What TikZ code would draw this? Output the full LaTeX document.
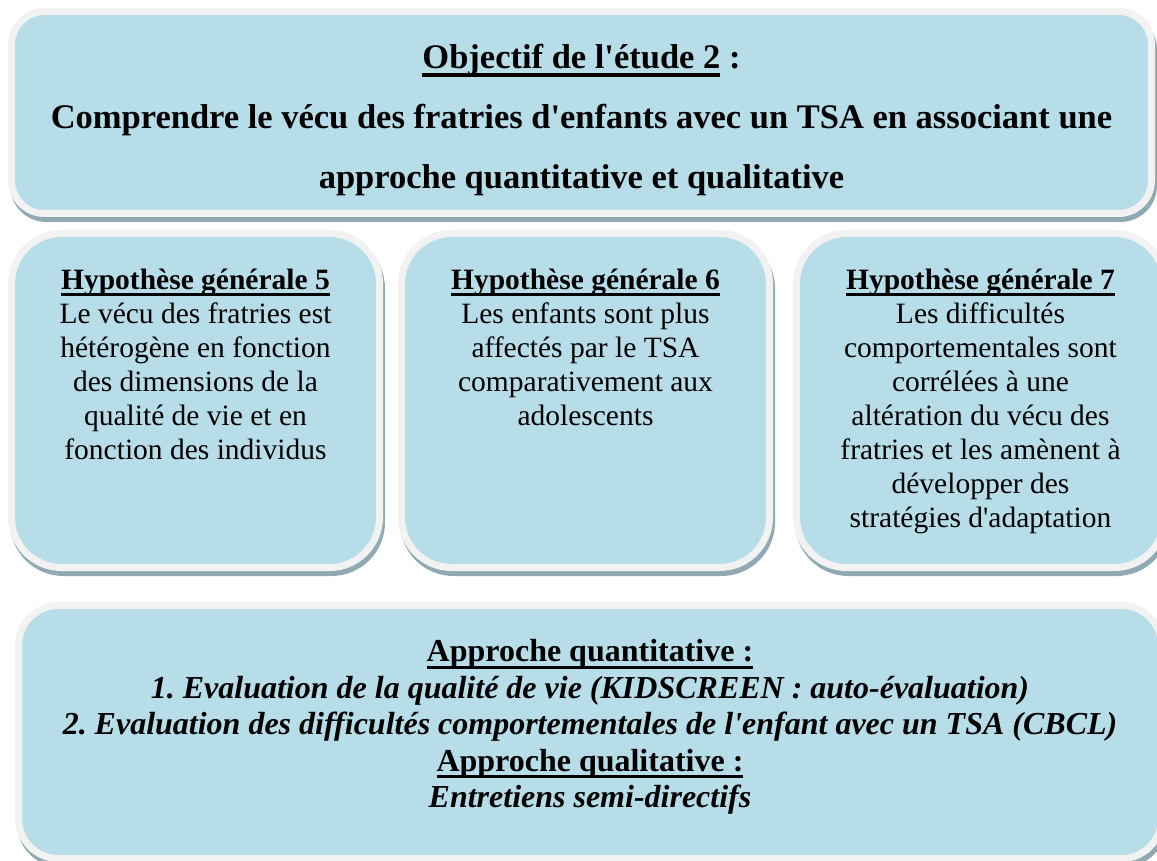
\documentclass[tikz,border=0pt]{standalone}
\usepackage{fontspec}
\setmainfont{Liberation Serif}
\usetikzlibrary{shadows}
\definecolor{fondbleu}{HTML}{B7DDE8}
\definecolor{bordgris}{HTML}{F2F2F2}
\definecolor{ombre}{HTML}{8FAAB3}
\frenchspacing
% underline placed like a word processor does (through the descenders)
\newcommand\souligne[1]{\sbox0{#1}\rlap{\rule[-0.22em]{\wd0}{0.09em}}\usebox0}
\newcommand\apos{\textquotesingle}

\begin{document}
\begin{tikzpicture}[x=1pt,y=-1pt,
  boite/.style={draw=bordgris,line width=7pt,fill=fondbleu,inner sep=0pt,
    drop shadow={shadow xshift=2pt,shadow yshift=-5pt,fill=ombre,draw=ombre,line width=7pt,opacity=1}},
  titretexte/.style={align=center,font=\fontsize{34.5}{60}\selectfont\bfseries},
  hyptexte/.style={align=center,anchor=north,font=\fontsize{29.5}{34}\selectfont},
  approchetexte/.style={align=center,font=\fontsize{32}{36.5}\selectfont\bfseries}]
\useasboundingbox (0,0) rectangle (1157,861);

% Objectif
\node[boite,rounded corners=33pt,minimum width=1140pt,minimum height=202pt] (objectif) at (581.5,112.5) {};
\node[titretexte] (titre) at ([yshift=-8pt]objectif.center)
  {\souligne{Objectif de l\apos étude 2} :\\
   Comprendre le vécu des fratries d\apos enfants avec un TSA en associant une\\
   approche quantitative et qualitative};

% Hypotheses
\foreach \nom/\x in {hypA/195.5,hypB/585.5,hypC/980.5}
  \node[boite,rounded corners=50pt,minimum width=368pt,minimum height=334pt] (\nom) at (\x,400.5) {};

\node[hyptexte] (texteA) at ([yshift=-35pt]hypA.north)
  {\textbf{\souligne{Hypothèse générale 5}}\\ Le vécu des fratries est\\ hétérogène en fonction\\
   des dimensions de la\\ qualité de vie et en\\ fonction des individus};
\node[hyptexte] (texteB) at ([yshift=-35pt]hypB.north)
  {\textbf{\souligne{Hypothèse générale 6}}\\ Les enfants sont plus\\ affectés par le TSA\\
   comparativement aux\\ adolescents};
\node[hyptexte] (texteC) at ([yshift=-35pt]hypC.north)
  {\textbf{\souligne{Hypothèse générale 7}}\\ Les difficultés\\ comportementales sont\\
   corrélées à une\\ altération du vécu des\\ fratries et les amènent à\\
   développer des\\ stratégies d\apos adaptation};

% Approches
\node[boite,rounded corners=40pt,minimum width=1143pt,minimum height=253pt] (approche) at (590,732) {};
\node[approchetexte] (texteapp) at ([yshift=5pt]approche.center)
  {\souligne{Approche quantitative :}\\
   \textit{1. Evaluation de la qualité de vie (KIDSCREEN : auto-évaluation)}\\
   \textit{2. Evaluation des difficultés comportementales de l\apos enfant avec un TSA (CBCL)}\\
   \souligne{Approche qualitative :}\\
   \textit{Entretiens semi-directifs}};
\end{tikzpicture}
\end{document}
